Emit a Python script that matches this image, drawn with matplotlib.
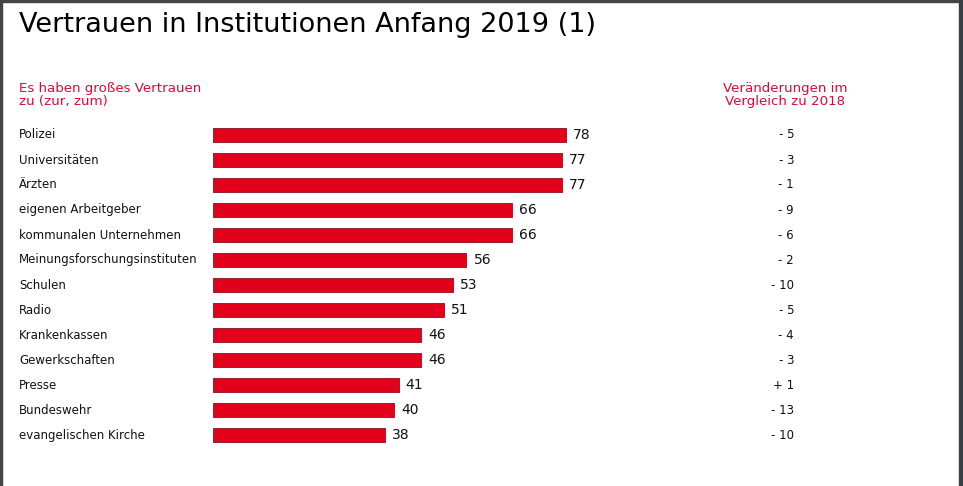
import matplotlib.pyplot as plt
from matplotlib.patches import Rectangle

institutionen = ['Polizei', 'Universitäten', 'Ärzten', 'eigenen Arbeitgeber',
                 'kommunalen Unternehmen', 'Meinungsforschungsinstituten', 'Schulen',
                 'Radio', 'Krankenkassen', 'Gewerkschaften', 'Presse', 'Bundeswehr',
                 'evangelischen Kirche']
vertrauen = [78, 77, 77, 66, 66, 56, 53, 51, 46, 46, 41, 40, 38]
veraenderung = ['- 5', '- 3', '- 1', '- 9', '- 6', '- 2', '- 10', '- 5', '- 4', '- 3',
                '+ 1', '- 13', '- 10']

RED = '#e2001a'
HEAD_RED = '#dc0a36'
W, H = 963, 486

fig = plt.figure(figsize=(W / 100, H / 100), dpi=100)
fig.patch.set_facecolor('white')

# axes spans the whole height; bar zero sits at x=213 px, 4.526 px per unit
ax = fig.add_axes([213 / W, 0, 1 - 213 / W, 1])
ax.set_xlim(0, (W - 213) / 4.526)
ax.set_ylim((H - 135) / 25, -135 / 25)
ax.axis('off')

y = range(len(vertrauen))
ax.barh(y, vertrauen, height=0.54, color=RED, edgecolor='#8a1020', linewidth=0.6)
for i, v in enumerate(vertrauen):
    ax.annotate(str(v), (v, i), xytext=(7, 0), textcoords='offset pixels',
                va='center', ha='left', fontsize=10, color='#111111')

for i, (name, ch) in enumerate(zip(institutionen, veraenderung)):
    ypx = 1 - (135 + 25 * i) / H
    fig.text(19 / W, ypx, name, ha='left', va='center', fontsize=8.5, color='#111111')
    fig.text(794 / W, ypx, ch, ha='right', va='center', fontsize=8.5, color='#111111')

fig.text(19 / W, 1 - 25 / H, 'Vertrauen in Institutionen Anfang 2019 (1)',
         ha='left', va='center', fontsize=19.5, color='black')
fig.text(19 / W, 1 - 95 / H, 'Es haben großes Vertrauen\nzu (zur, zum)',
         ha='left', va='center', fontsize=9.6, color=HEAD_RED, linespacing=1.0)
fig.text(785 / W, 1 - 95 / H, 'Veränderungen im\nVergleich zu 2018',
         ha='center', va='center', fontsize=9.6, color=HEAD_RED, linespacing=1.0)

# dark frame on top, left and right (display coords, origin bottom-left)
fig.patches.append(Rectangle((0, H - 2), W, 2, transform=None, color='#444444'))
fig.patches.append(Rectangle((0, 0), 2, H, transform=None, color='#444444'))
fig.patches.append(Rectangle((959, 0), 4, H, transform=None, color='#3a3f44'))

fig.savefig('out.png', dpi=100)
